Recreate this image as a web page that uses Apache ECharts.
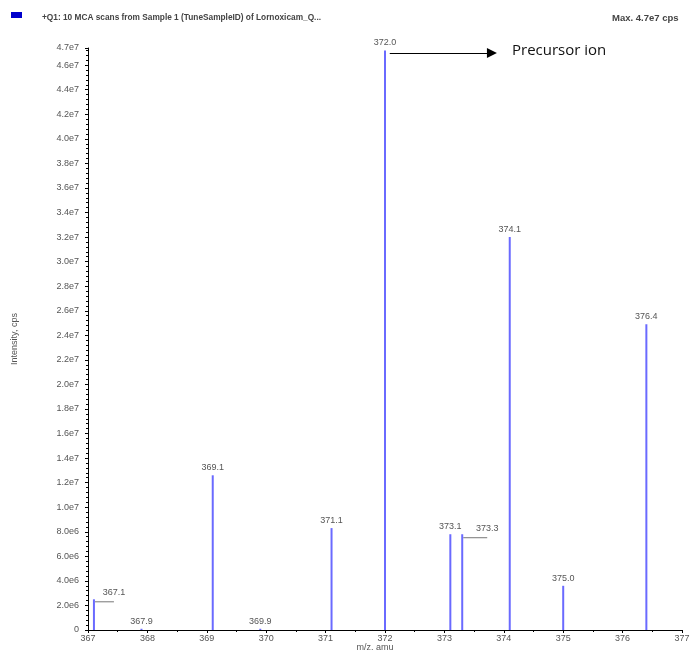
<!DOCTYPE html>
<html><head><meta charset="utf-8">
<script src="https://cdn.jsdelivr.net/npm/echarts@6/dist/echarts.min.js"></script>
<style>html,body{margin:0;padding:0;background:#fff;overflow:hidden}#c{width:696px;height:650px}</style>
</head><body><div id="c"></div>
<script>
// m/z of each peak and its intensity (cps)
const peakMz = [367.1, 367.9, 369.1, 369.9, 371.1, 372.0, 373.1, 373.3, 374.1, 375.0, 376.4];
const peakIntensity = [2.5e6, 0.1e6, 12.6e6, 0.1e6, 8.3e6, 47.2e6, 7.8e6, 7.8e6, 32.0e6, 3.6e6, 24.9e6];
const xTicks = [367, 368, 369, 370, 371, 372, 373, 374, 375, 376, 377];
const headerText = '+Q1: 10 MCA scans from Sample 1 (TuneSampleID) of Lornoxicam_Q...';
const maxText = 'Max. 4.7e7 cps';
const annotation = 'Precursor ion';
const arrowFrom = [372.08, 4.70e7];
const arrowTo = [373.8, 4.70e7];

const chart = echarts.init(document.getElementById('c'), null, {renderer: 'canvas'});
const lblFont = {fontFamily: 'Liberation Sans, Arial', fontSize: 9, color: '#555'};

const data = peakMz.map((m, i) => {
  const item = {value: [m, peakIntensity[i]]};
  if (m === 367.1) {
    item.label = {offset: [20, 1]};
    item.labelLine = {show: true, lineStyle: {color: '#777', width: 1}};
  }
  if (m === 373.3) {
    item.label = {offset: [25, 2]};
    item.labelLine = {show: true, lineStyle: {color: '#777', width: 1}};
  }
  return item;
});

chart.setOption({
  animation: false,
  grid: {left: 88, right: 14, top: 48, bottom: 20, containLabel: false, outerBoundsMode: 'none'},
  xAxis: {
    type: 'value', min: xTicks[0], max: xTicks[xTicks.length - 1], interval: 1,
    name: 'm/z, amu', nameLocation: 'middle', nameGap: 13, nameMoveOverlap: false,
    nameTextStyle: {fontFamily: 'Liberation Sans, Arial', fontSize: 9, color: '#555', padding: [0, 20, 0, 0], verticalAlign: 'top'},
    axisLine: {lineStyle: {color: '#000', width: 1}},
    axisTick: {show: true, length: 3, lineStyle: {color: '#000'}},
    minorTick: {show: true, splitNumber: 2, length: 2, lineStyle: {color: '#000'}},
    splitLine: {show: false},
    axisLabel: Object.assign({margin: 4, formatter: v => String(v)}, lblFont)
  },
  yAxis: {
    type: 'value', min: 0, max: 4.74e7, interval: 2e6,
    name: 'Intensity, cps', nameLocation: 'middle', nameGap: 69, nameRotate: 90, nameMoveOverlap: false,
    nameTextStyle: {fontFamily: 'Liberation Sans, Arial', fontSize: 9, color: '#555'},
    axisLine: {show: true, lineStyle: {color: '#000', width: 1}},
    axisTick: {show: true, length: 3, lineStyle: {color: '#000'}},
    minorTick: {show: true, splitNumber: 5, length: 2, lineStyle: {color: '#000'}},
    splitLine: {show: false},
    axisLabel: Object.assign({margin: 9, formatter: v => v === 0 ? '0' : v.toExponential(1).replace('+', '')}, lblFont)
  },
  series: [{
    type: 'bar', barWidth: 2, data: data,
    itemStyle: {color: '#6a6aff'},
    label: Object.assign({show: true, position: 'top', distance: 3,
      formatter: p => p.value[0].toFixed(1)}, lblFont),
    markLine: {
      silent: true, symbol: ['none', 'triangle'], symbolSize: [10, 10],
      lineStyle: {color: '#000', width: 1.2, type: 'solid'},
      label: {show: false},
      data: [[{coord: arrowFrom}, {coord: arrowTo}]]
    }
  }],
  graphic: [
    {type: 'rect', left: 11, top: 12, shape: {width: 11, height: 6}, style: {fill: '#0000cc'}},
    {type: 'text', left: 42, top: 14, style: {text: headerText, font: 'bold 8.3px Liberation Sans, Arial', fill: '#444'}},
    {type: 'text', left: 612, top: 13, style: {text: maxText, font: 'bold 9.5px Liberation Sans, Arial', fill: '#444'}},
    {type: 'text', left: 512, top: 43, style: {text: annotation, font: '15px Open Sans, Liberation Sans', fill: '#111'}}
  ]
});
</script></body></html>
